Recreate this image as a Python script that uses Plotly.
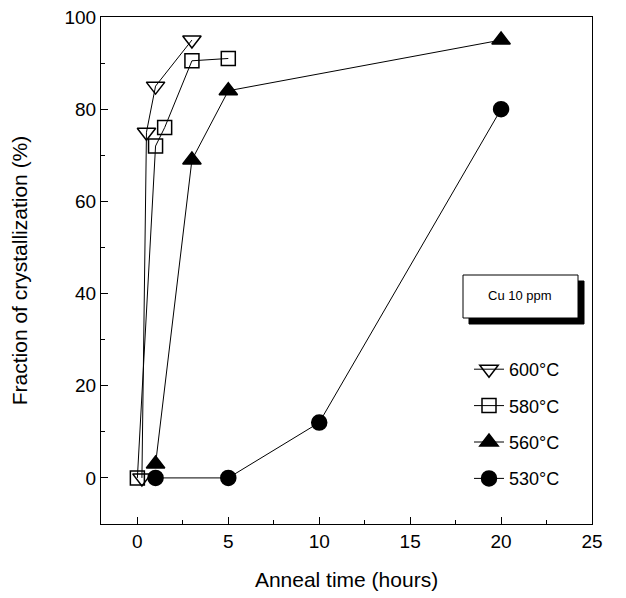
import plotly.graph_objects as go

x600 = [0.25, 0.5, 1, 3]
y600 = [0, 75, 85, 95]
x580 = [0, 1, 1.5, 3, 5]
y580 = [0, 72, 76, 90.5, 91]
x560 = [1, 3, 5, 20]
y560 = [3, 69, 84, 95]
x530 = [1, 5, 10, 20]
y530 = [0, 0, 12, 80]

series = [
    ("600°C", x600, y600, "triangle-down-open", 16),
    ("580°C", x580, y580, "square-open", 14),
    ("560°C", x560, y560, "triangle-up", 16),
    ("530°C", x530, y530, "circle", 15),
]

fig = go.Figure()
for i, (name, xs, ys, sym, sz) in enumerate(series):
    fig.add_trace(go.Scatter(
        x=xs, y=ys, name=name, mode="lines+markers",
        line=dict(color="black", width=1),
        marker=dict(symbol=sym, size=sz, color="black",
                    line=dict(color="black", width=1.5)),
        legendgroup=f"g{i}",
    ))

L, R, T, B = 101, 592, 17, 524
W, H = R - L, B - T

def px(x):
    return (x - L) / W

def py(y):
    return (B - y) / H

font = "Liberation Sans, Arial, Helvetica, sans-serif"
fig.update_layout(
    width=626, height=598,
    margin=dict(l=L, r=626 - R, t=T, b=598 - B, autoexpand=False),
    paper_bgcolor="white", plot_bgcolor="white",
    font=dict(family=font, color="black", size=19),
    showlegend=True,
    legend=dict(x=px(469), y=py(351), xanchor="left", yanchor="top",
                bgcolor="rgba(0,0,0,0)", font=dict(size=18),
                tracegroupgap=10, itemwidth=30),
    xaxis=dict(range=[-2, 25], tickvals=[0, 5, 10, 15, 20, 25], automargin=False,
               ticks="inside", ticklen=7, tickcolor="black",
               showline=True, linecolor="black", linewidth=1, mirror=True,
               showgrid=False, zeroline=False,
               minor=dict(tickvals=[2.5, 7.5, 12.5, 17.5, 22.5], ticks="inside",
                          ticklen=4, tickcolor="black"),
               title=dict(text="Anneal time (hours)", font=dict(size=21), standoff=21)),
    yaxis=dict(range=[-10, 100], tickvals=[0, 20, 40, 60, 80, 100], automargin=False,
               ticks="inside", ticklen=7, tickcolor="black",
               showline=True, linecolor="black", linewidth=1, mirror=True,
               showgrid=False, zeroline=False,
               minor=dict(tickvals=[10, 30, 50, 70, 90], ticks="inside",
                          ticklen=4, tickcolor="black"),
               title=dict(text="Fraction of crystallization (%)", font=dict(size=21), standoff=31)),
)

# Annotation box with drop shadow
fig.add_shape(type="rect", xref="paper", yref="paper",
              x0=px(469), x1=px(584), y0=py(324), y1=py(281),
              fillcolor="black", line=dict(color="black", width=1), layer="above")
fig.add_shape(type="rect", xref="paper", yref="paper",
              x0=px(463), x1=px(578), y0=py(318), y1=py(275),
              fillcolor="white", line=dict(color="black", width=1), layer="above")
fig.add_annotation(xref="paper", yref="paper", x=px(520), y=py(296),
                   xanchor="center", yanchor="middle",
                   text="Cu 10 ppm", showarrow=False, font=dict(size=13))

fig.write_html("out.html", config={"displayModeBar": False},
               post_script="document.body.style.margin='0';")
